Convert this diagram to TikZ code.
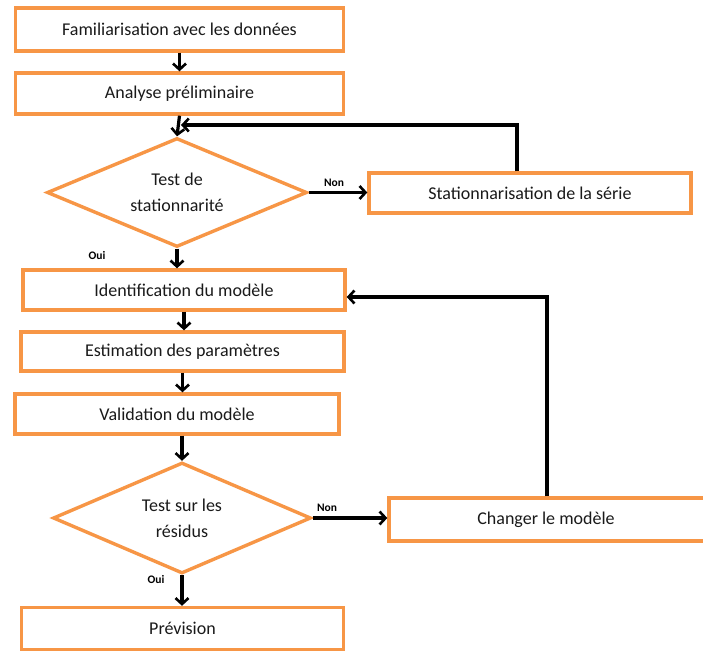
\documentclass[tikz,border=0pt]{standalone}
\usepackage{fontspec}
\setmainfont{Carlito}
\usetikzlibrary{shapes.geometric,arrows.meta}
\definecolor{boxorange}{HTML}{F79646}
\definecolor{inktext}{HTML}{1A1A1A}
\begin{document}
\begin{tikzpicture}[x=1pt,y=-1pt,
  stepbox/.style={draw=boxorange,line width=3.4pt,fill=white,text=inktext,
    font=\fontsize{18}{21}\selectfont,inner sep=0pt},
  boxtext/.style={text=inktext,font=\fontsize{18}{21}\selectfont,inner sep=0pt},
  decision/.style={draw=boxorange,line width=3.4pt,fill=white,diamond,aspect=2.36,
    inner sep=0pt,align=center,font=\fontsize{18}{26}\selectfont,text=inktext},
  flow/.style={line width=3.2pt,-{Straight Barb[length=6pt,width=13pt,line width=2.6pt]}},
  tag/.style={font=\bfseries\fontsize{11.5}{13}\selectfont,inner sep=0pt}]
\useasboundingbox (0,0) rectangle (703,653);

% main column
\node[stepbox,minimum width=328,minimum height=43] (fam) at (179.5,29.5) {Familiarisation avec les données};
\node[stepbox,minimum width=328,minimum height=41] (ana) at (179.5,93.5) {Analyse préliminaire};
\node[decision,minimum width=260,minimum height=109] (t1) at (177,192.5) {Test de\\stationnarité};
\node[stepbox,minimum width=322,minimum height=40] (sta) at (530,193) {Stationnarisation de la série};
\node[stepbox,minimum width=322,minimum height=40] (ide) at (184,290) {Identification du modèle};
\node[stepbox,minimum width=323,minimum height=39] (est) at (182.5,351.5) {Estimation des paramètres};
\node[stepbox,minimum width=324,minimum height=40] (val) at (177,414) {Validation du modèle};
\node[decision,minimum width=258,minimum height=111] (t2) at (182,518) {Test sur les\\résidus};
\node[stepbox,minimum width=330,minimum height=43] (chg) at (554,519.5) {};
\node[boxtext] (chgtext) at (546,519.5) {Changer le modèle};
\node[stepbox,minimum width=322,minimum height=42] (pre) at (182.5,628.5) {Prévision};

% junction points of the loop-back arrows
\coordinate (m1) at (181,125);
\coordinate (c1) at (517,125);
\coordinate (c2) at (547,297);

% forward flow
\draw[flow] (fam.south) -- (ana.north);
\draw[flow] (ana.south) -- (t1.north);
\draw[flow] (t1.south) -- (ide.north -| t1.south);
\draw[flow] (ide.south) -- (est.north -| ide.south);
\draw[flow] (est.south) -- (val.north -| est.south);
\draw[flow] (val.south -| t2.north) -- (t2.north);
\draw[flow] (t2.south) -- (pre.north -| t2.south);
\draw[flow] (t1.east) -- (sta.west |- t1.east);
\draw[flow] (t2.east) -- (chg.west |- t2.east);

% loop-back arrows
\draw[flow] (sta.north -| c1) |- (m1);
\draw[flow] (chg.north -| c2) |- (ide.east |- c2);

% branch labels
\node[tag] (non1) at (334,183) {Non};
\node[tag] (oui1) at (97,256) {Oui};
\node[tag] (non2) at (327,508) {Non};
\node[tag] (oui2) at (156,579) {Oui};
\end{tikzpicture}
\end{document}
